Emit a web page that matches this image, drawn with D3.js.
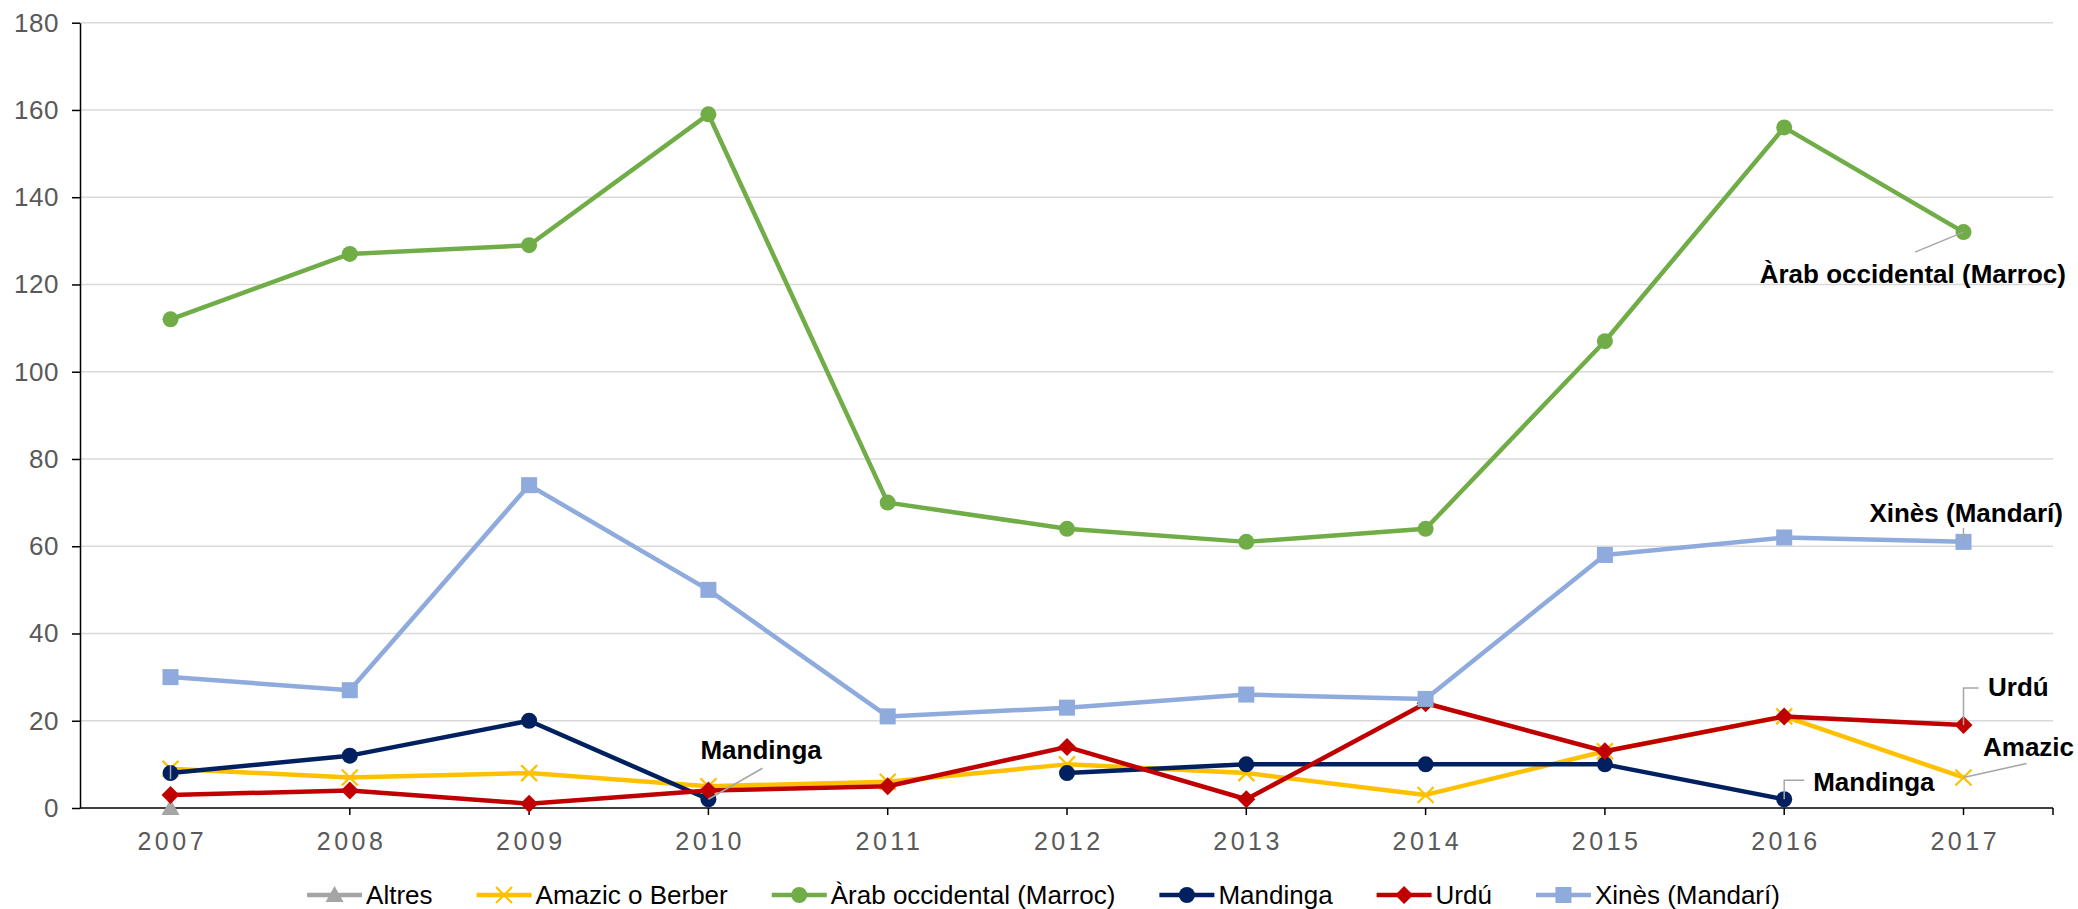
<!DOCTYPE html>
<html>
<head>
<meta charset="utf-8">
<script src="https://cdn.jsdelivr.net/npm/d3@7"></script>
<style>
  html, body { margin: 0; padding: 0; background: #fff; }
  svg { display: block; font-family: "Liberation Sans", Arial, sans-serif; }
</style>
</head>
<body>
<svg id="chart" width="2078" height="909"></svg>
<script>
// ---- Data ----
const years = ["2007","2008","2009","2010","2011","2012","2013","2014","2015","2016","2017"];
const yTicks = [0,20,40,60,80,100,120,140,160,180];
const seriesNames = ["Altres","Amazic o Berber","Àrab occidental (Marroc)","Mandinga","Urdú","Xinès (Mandarí)"];
const altres   = [0, null, null, null, null, null, null, null, null, null, null];
const amazic   = [9, 7, 8, 5, 6, 10, 8, 3, 13, 21, 7];
const arab     = [112, 127, 129, 159, 70, 64, 61, 64, 107, 156, 132];
const mandinga = [8, 12, 20, 2, null, 8, 10, 10, 10, 2, null];
const urdu     = [3, 4, 1, 4, 5, 14, 2, 24, 13, 21, 19];
const xines    = [30, 27, 74, 50, 21, 23, 26, 25, 58, 62, 61];

const seriesValues = [altres, amazic, arab, mandinga, urdu, xines];
const seriesColors = ["#A5A5A5","#FFC000","#70AD47","#002060","#C00000","#8FAADC"];
const seriesMarkers = ["triangle","x","circle","circle","diamond","square"];

// data labels: series index, year, label text
const labels = [
  {s:2, year:"2017", text:"Àrab occidental (Marroc)", anchor:"end",   tx:102.5, ty:51,  leader:[[0,0],[-48.5,20]]},
  {s:5, year:"2017", text:"Xinès (Mandarí)",          anchor:"end",   tx:99.5,  ty:-20, leader:[[0,0],[0,-14]]},
  {s:4, year:"2017", text:"Urdú",                     anchor:"start", tx:24.5,  ty:-29, leader:[[0,0],[0,-37],[15,-37]]},
  {s:1, year:"2017", text:"Amazic",                   anchor:"start", tx:19.5,  ty:-21, leader:[[0,0],[63,-14]]},
  {s:3, year:"2016", text:"Mandinga",                 anchor:"start", tx:29,    ty:-8,  leader:[[0,0],[0,-19],[20,-19]]},
  {s:3, year:"2010", text:"Mandinga",                 anchor:"start", tx:-8,    ty:-40, leader:[[0,0],[54,-31]]},
  {s:3, year:"2007", text:"",                         anchor:"start", tx:0,     ty:0,   leader:[[0,-8],[0,6]]}
];

// ---- Layout ----
const svg = d3.select("#chart");
const plotLeft = 80, plotRight = 2053, plotTop = 22.7, plotBottom = 808;
const x = d3.scalePoint().domain(years).range([170.5, 1963.5]);
const y = d3.scaleLinear().domain([0,180]).range([plotBottom, plotTop]);

// gridlines
svg.append("g").selectAll("line").data(yTicks.filter(d => d > 0)).join("line")
  .attr("x1", plotLeft).attr("x2", plotRight)
  .attr("y1", d => y(d)).attr("y2", d => y(d))
  .attr("stroke", "#D9D9D9").attr("stroke-width", 1.5);

// y axis
const yAxis = svg.append("g").attr("transform", `translate(${plotLeft},0)`)
  .call(d3.axisLeft(y).tickValues(yTicks).tickSize(8).tickPadding(13).tickSizeOuter(0));
yAxis.attr("font-size", null).attr("font-family", null);
yAxis.select(".domain").attr("stroke", "#000").attr("stroke-width", 1.5);
yAxis.selectAll(".tick line").attr("stroke", "#000").attr("stroke-width", 1.5);
yAxis.selectAll(".tick text").attr("fill", "#595959")
  .style("font-size", "26px")
  .style("font-family", "'Liberation Sans', Arial, sans-serif").attr("letter-spacing", "0.5px");

// x axis
const xAxisG = svg.append("g");
xAxisG.append("line").attr("x1", plotLeft).attr("x2", plotRight)
  .attr("y1", plotBottom).attr("y2", plotBottom)
  .attr("stroke", "#000").attr("stroke-width", 1.5);
xAxisG.selectAll("line.tk").data(years).join("line").attr("class","tk")
  .attr("x1", d => x(d)).attr("x2", d => x(d))
  .attr("y1", plotBottom).attr("y2", plotBottom + 7)
  .attr("stroke", "#000").attr("stroke-width", 1.5);
xAxisG.append("line").attr("x1", plotRight).attr("x2", plotRight)
  .attr("y1", plotBottom).attr("y2", plotBottom + 7)
  .attr("stroke", "#000").attr("stroke-width", 1.5);
xAxisG.selectAll("text").data(years).join("text")
  .attr("x", d => x(d) + 1.75).attr("y", 850)
  .attr("text-anchor", "middle").attr("fill", "#595959")
  .attr("font-size", 25).attr("letter-spacing", "3.5px")
  .text(d => d);

// marker drawing
function drawMarker(g, type, cx, cy, color) {
  if (type === "circle") {
    g.append("circle").attr("cx", cx).attr("cy", cy).attr("r", 8).attr("fill", color);
  } else if (type === "square") {
    g.append("rect").attr("x", cx - 8).attr("y", cy - 8).attr("width", 16).attr("height", 16).attr("fill", color);
  } else if (type === "diamond") {
    g.append("path").attr("d", `M${cx},${cy-9}L${cx+9},${cy}L${cx},${cy+9}L${cx-9},${cy}Z`).attr("fill", color);
  } else if (type === "triangle") {
    g.append("path").attr("d", `M${cx},${cy-9}L${cx+9},${cy+7}L${cx-9},${cy+7}Z`).attr("fill", color);
  } else if (type === "x") {
    g.append("path").attr("d", `M${cx-8},${cy-8}L${cx+8},${cy+8}M${cx+8},${cy-8}L${cx-8},${cy+8}`)
      .attr("stroke", color).attr("stroke-width", 2.2).attr("fill", "none");
  }
}

// series
const line = d3.line().defined(d => d.v !== null).x(d => x(d.year)).y(d => y(d.v));
seriesValues.forEach((vals, i) => {
  const pts = years.map((yr, j) => ({year: yr, v: vals[j]}));
  const g = svg.append("g");
  g.append("path").datum(pts).attr("d", line)
    .attr("fill", "none").attr("stroke", seriesColors[i])
    .attr("stroke-width", 4.5).attr("stroke-linejoin", "round");
  pts.filter(p => p.v !== null).forEach(p => drawMarker(g, seriesMarkers[i], x(p.year), y(p.v), seriesColors[i]));
});

// data labels
labels.forEach(l => {
  const vals = seriesValues[l.s];
  const v = vals[years.indexOf(l.year)];
  const px = x(l.year), py = y(v);
  svg.append("path")
    .attr("d", d3.line()(l.leader.map(p => [px + p[0], py + p[1]])))
    .attr("fill", "none").attr("stroke", "#A6A6A6").attr("stroke-width", 1.5);
  if (l.text) {
    svg.append("text").attr("x", px + l.tx).attr("y", py + l.ty)
      .attr("text-anchor", l.anchor).attr("font-weight", "bold")
      .attr("font-size", 26).attr("fill", "#000").text(l.text);
  }
});

// legend
const legend = svg.append("g");
let cursor = 0;
const lineLen = 55, gapText = 4, gapItem = 44, legY = 895;
seriesNames.forEach((name, i) => {
  const g = legend.append("g");
  g.append("line").attr("x1", 0).attr("x2", lineLen).attr("y1", legY).attr("y2", legY)
    .attr("stroke", seriesColors[i]).attr("stroke-width", 4.5);
  drawMarker(g, seriesMarkers[i], lineLen / 2, legY, seriesColors[i]);
  const t = g.append("text").attr("x", lineLen + gapText).attr("y", legY + 9)
    .attr("font-size", 26).attr("fill", "#000").text(name);
  const w = lineLen + gapText + t.node().getComputedTextLength();
  g.attr("transform", `translate(${cursor},0)`);
  cursor += w + gapItem;
});
const totalW = cursor - gapItem;
legend.attr("transform", `translate(${1043.5 - totalW / 2},0)`);
</script>
</body>
</html>
